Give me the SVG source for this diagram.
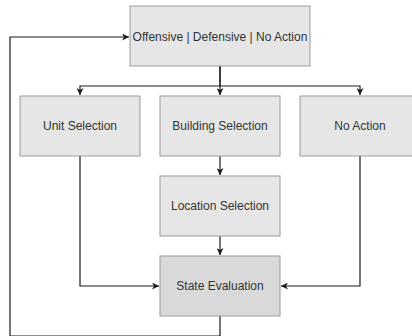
<svg xmlns="http://www.w3.org/2000/svg" width="412" height="336" viewBox="0 0 412 336">
<style>
.box{fill:#e6e6e6;stroke:#9a9a9a;stroke-width:1}
.dark{fill:#d9d9d9}
.lbl{font-family:"Liberation Sans",Arial,sans-serif;font-size:12px;fill:#333333;text-anchor:middle;dominant-baseline:central}
.edge{fill:none;stroke:#1a1a1a;stroke-width:1.2}
</style>
<defs>
<marker id="ah" viewBox="0 0 10 10" refX="10" refY="5" markerWidth="7" markerHeight="7" markerUnits="userSpaceOnUse" orient="auto">
<path d="M0,0 L10,5 L0,10 L3,5 Z" fill="#1a1a1a"/>
</marker>
</defs>
<g id="connectors">
<path class="edge" d="M220,66 V86 H80 V95" marker-end="url(#ah)"/>
<path class="edge" d="M220,66 V95" marker-end="url(#ah)"/>
<path class="edge" d="M220,86 H360 V95" marker-end="url(#ah)"/>
<path class="edge" d="M220,156 V175" marker-end="url(#ah)"/>
<path class="edge" d="M220,236 V255" marker-end="url(#ah)"/>
<path class="edge" d="M80,156 V286 H159" marker-end="url(#ah)"/>
<path class="edge" d="M360,156 V286 H281" marker-end="url(#ah)"/>
<path class="edge" d="M220,316 V336 H10 V37 H129" marker-end="url(#ah)"/>
</g>
<g id="top">
<rect class="box" x="130" y="6" width="180" height="60"/>
<text class="lbl" x="220" y="37">Offensive | Defensive | No Action</text>
</g>
<g id="unit">
<rect class="box" x="20" y="96" width="120" height="60"/>
<text class="lbl" x="80" y="126">Unit Selection</text>
</g>
<g id="building">
<rect class="box" x="160" y="96" width="120" height="60"/>
<text class="lbl" x="220" y="126">Building Selection</text>
</g>
<g id="noaction">
<rect class="box" x="300" y="96" width="120" height="60"/>
<text class="lbl" x="360" y="126">No Action</text>
</g>
<g id="location">
<rect class="box" x="160" y="176" width="120" height="60"/>
<text class="lbl" x="220" y="206">Location Selection</text>
</g>
<g id="state">
<rect class="box dark" x="160" y="256" width="120" height="60"/>
<text class="lbl" x="220" y="286">State Evaluation</text>
</g>
</svg>
